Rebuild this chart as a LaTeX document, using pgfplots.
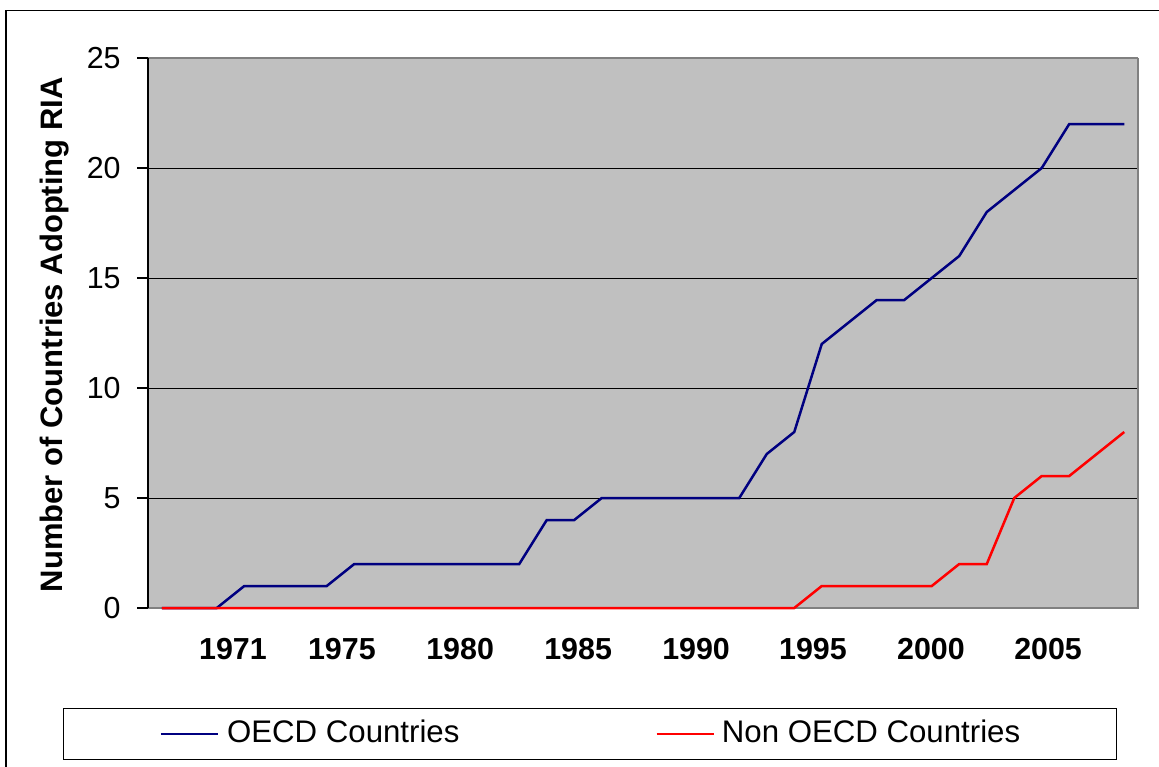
\documentclass[border=0pt]{standalone}
\usepackage{pgfplots}
\pgfplotsset{compat=1.18}
\usepackage{pgfplotstable}
\usepackage{fontspec}
\setmainfont{Liberation Sans}
\definecolor{plotbg}{HTML}{C0C0C0}
\definecolor{framegray}{HTML}{808080}
\definecolor{oecd}{HTML}{000080}
\definecolor{nonoecd}{HTML}{FF0000}
\pgfplotstableread{
idx oecd non
0 0 0
1 0 0
2 0 0
3 1 0
4 1 0
5 1 0
6 1 0
7 2 0
8 2 0
9 2 0
10 2 0
11 2 0
12 2 0
13 2 0
14 4 0
15 4 0
16 5 0
17 5 0
18 5 0
19 5 0
20 5 0
21 5 0
22 7 0
23 8 0
24 12 1
25 13 1
26 14 1
27 14 1
28 15 1
29 16 2
30 18 2
31 19 5
32 20 6
33 22 6
34 22 7
35 22 8
}\datatable
\begin{document}
\begin{tikzpicture}[x=1pt,y=1pt]
\useasboundingbox (0,0) rectangle (579.5,383);
\draw[line width=0.9pt] (3,-5) -- (3,377.75) -- (590,377.75);
\begin{axis}[
  at={(74pt,79pt)}, anchor=south west,
  scale only axis, width=495pt, height=275pt,
  xmin=-0.5, xmax=35.5, ymin=0, ymax=25,
  clip=false,
  axis line style={draw=none},
  axis background/.style={fill=plotbg},
  ytick={0,5,...,25},
  ytick pos=left,
  tick align=outside,
  major tick length=5.5pt,
  tick style={black, line width=0.6pt},
  xtick={2.59,6.55,10.85,15.14,19.43,23.68,27.97,32.23},
  xticklabels={1971,1975,1980,1985,1990,1995,2000,2005},
  xtick style={draw=none},
  ymajorgrids, grid style={black, line width=0.5pt},
  /pgf/number format/assume math mode=true,
  yticklabel style={font=\fontsize{15.2}{18}\selectfont, inner sep=0pt, xshift=-8pt},
  xticklabel style={font=\fontsize{15.2}{18}\selectfont\bfseries, inner sep=0pt, anchor=north, yshift=-9.5pt},
  ylabel={Number of Countries Adopting RIA},
  ylabel style={font=\fontsize{15.5}{18}\selectfont\bfseries, at={(axis description cs:-0.094,0.497)}, anchor=center},
  legend columns=2,
  legend image code/.code={\draw[#1] (0pt,0pt) -- (28.5pt,0pt);},
  legend style={at={(axis description cs:0,0)}, anchor=north west, xshift=-42.5pt, yshift=-50pt,
    draw=black, line width=0.6pt, fill=white, inner xsep=48pt, inner ysep=5.3pt,
    font=\fontsize{15.6}{18}\selectfont,
    nodes={inner sep=0pt, text height=11.5pt, text depth=3.5pt},
    /tikz/column 1/.style={column sep=4pt},
    /tikz/column 2/.style={column sep=98pt},
    /tikz/column 3/.style={column sep=3.5pt}},
]
\draw[framegray, line width=0.7pt] (rel axis cs:0,1) -- (rel axis cs:1,1);
\draw[framegray, line width=1.4pt] (rel axis cs:1,1) -- (rel axis cs:1,0) -- (rel axis cs:0,0);
\draw[black, line width=0.6pt] (rel axis cs:0,0) -- (rel axis cs:0,1);
\addplot[oecd, line width=1.25pt] table[x=idx, y=oecd] {\datatable};
\addlegendentry{OECD Countries}
\addplot[nonoecd, line width=1.25pt] table[x=idx, y=non] {\datatable};
\addlegendentry{Non OECD Countries}
\end{axis}
\end{tikzpicture}
\end{document}
